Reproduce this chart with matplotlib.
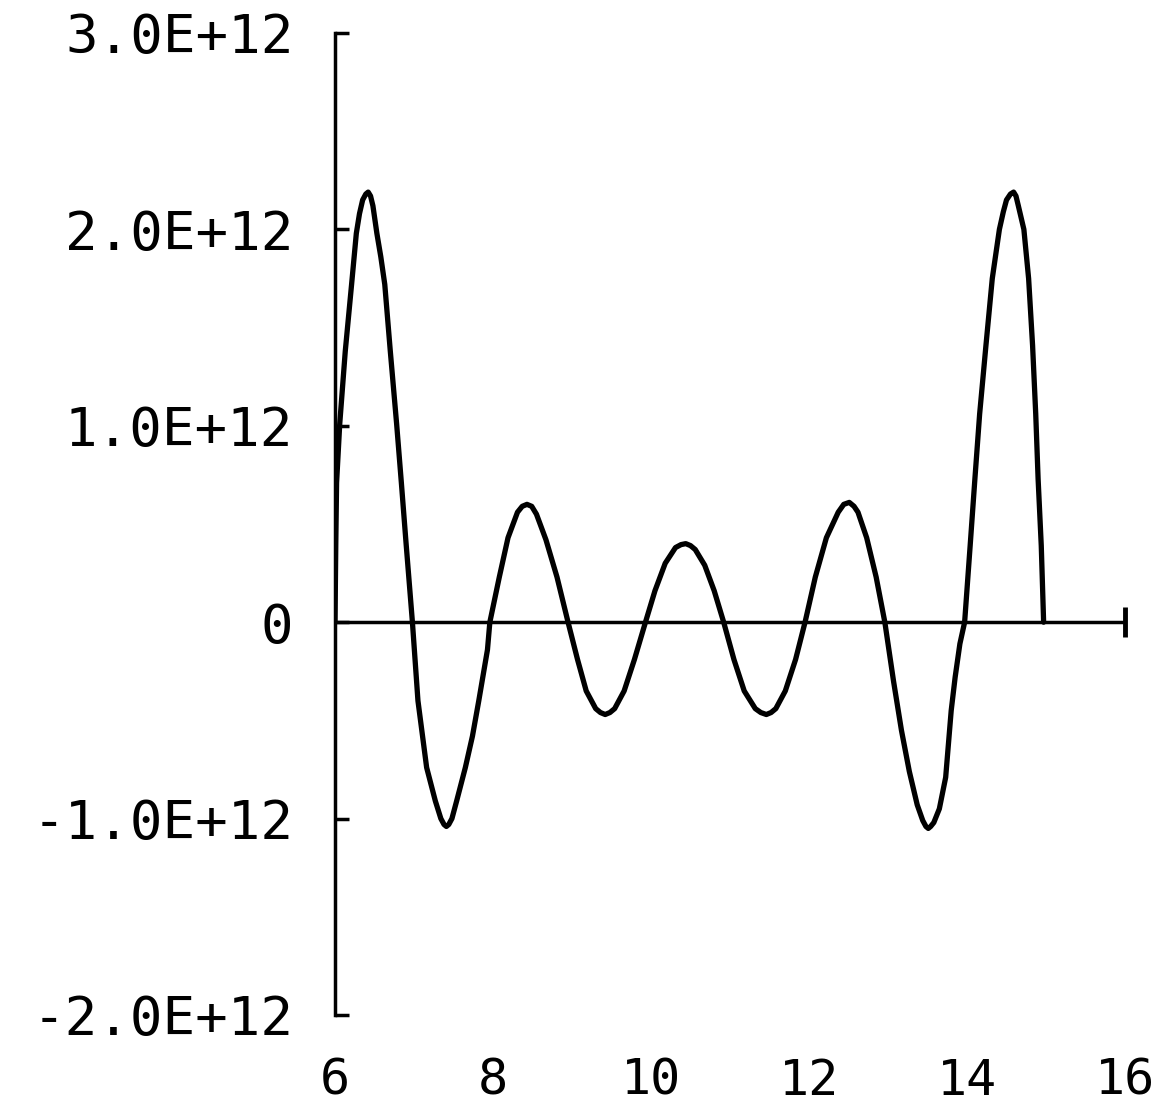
import numpy as np
import matplotlib
matplotlib.use("Agg")
import matplotlib.pyplot as plt

# values (y in units of 1E+12)
x_vals = [6.00, 6.01, 6.02, 6.06, 6.13, 6.21, 6.27, 6.31, 6.35, 6.39, 6.42, 6.45, 6.48, 6.53, 6.58, 6.63, 6.70, 6.78, 6.84, 6.90, 6.98,
          7.05, 7.16, 7.27, 7.34, 7.38, 7.41, 7.44, 7.48, 7.54, 7.65, 7.74, 7.82, 7.93, 7.96,
          8.08, 8.19, 8.31, 8.37, 8.43, 8.49, 8.55, 8.67, 8.81, 8.95,
          9.07, 9.18, 9.30, 9.36, 9.42, 9.48, 9.54, 9.66, 9.79, 9.93,
          10.05, 10.18, 10.31, 10.38, 10.44, 10.50, 10.56, 10.68, 10.80, 10.92,
          11.05, 11.18, 11.32, 11.39, 11.46, 11.52, 11.58, 11.70, 11.83, 11.95,
          12.08, 12.22, 12.37, 12.44, 12.51, 12.57, 12.62, 12.73, 12.85, 12.96,
          13.07, 13.17, 13.27, 13.37, 13.44, 13.48, 13.51, 13.54, 13.58, 13.65, 13.73, 13.80, 13.85, 13.91, 13.97,
          14.04, 14.10, 14.16, 14.24, 14.32, 14.41, 14.46, 14.50, 14.55, 14.59, 14.62, 14.65, 14.72, 14.78, 14.83, 14.87, 14.90, 14.94, 14.97]
y_vals = [0.00, 0.40, 0.71, 1.01, 1.38, 1.72, 1.98, 2.08, 2.15, 2.18, 2.19, 2.17, 2.12, 1.98, 1.86, 1.72, 1.38, 1.01, 0.71, 0.40, 0.00,
          -0.40, -0.74, -0.91, -1.00, -1.03, -1.04, -1.03, -1.00, -0.91, -0.74, -0.58, -0.40, -0.14, 0.00,
          0.23, 0.43, 0.56, 0.59, 0.60, 0.59, 0.55, 0.42, 0.23, 0.00,
          -0.19, -0.35, -0.44, -0.46, -0.47, -0.46, -0.44, -0.35, -0.19, 0.00,
          0.16, 0.30, 0.38, 0.395, 0.40, 0.39, 0.37, 0.29, 0.16, 0.00,
          -0.19, -0.35, -0.44, -0.46, -0.47, -0.46, -0.44, -0.35, -0.19, 0.00,
          0.23, 0.43, 0.56, 0.60, 0.61, 0.59, 0.56, 0.43, 0.23, 0.00,
          -0.30, -0.55, -0.76, -0.93, -1.01, -1.04, -1.05, -1.04, -1.02, -0.95, -0.79, -0.45, -0.28, -0.11, 0.00,
          0.39, 0.73, 1.06, 1.41, 1.75, 2.00, 2.09, 2.15, 2.18, 2.19, 2.17, 2.12, 2.00, 1.75, 1.41, 1.06, 0.73, 0.39, 0.00]

y_ticks = [-2e12, -1e12, 0, 1e12, 2e12, 3e12]
y_tick_labels = ["-2.0E+12", "-1.0E+12", "0", "1.0E+12", "2.0E+12", "3.0E+12"]
x_ticks = [6, 8, 10, 12, 14, 16]
x_tick_labels = ["6", "8", "10", "12", "14", "16"]

plt.rcParams['font.family'] = ['DejaVu Sans Mono', 'DejaVu Sans']

fig = plt.figure(figsize=(11.59, 11.11), dpi=100)
ax = fig.add_axes([335 / 1159, 96 / 1111, 790 / 1159, 982 / 1111])

ax.plot(x_vals, np.array(y_vals) * 1e12, color='black', lw=3.8,
        solid_joinstyle='round', solid_capstyle='round')

ax.set_xlim(6, 16)
ax.set_ylim(-2e12, 3e12)

for s in ['top', 'right', 'bottom']:
    ax.spines[s].set_visible(False)
ax.spines['left'].set_linewidth(2.5)

# x axis drawn through zero, with a bar at the far end
ax.axhline(0, color='black', lw=2.5)
ax.plot(ax.get_xlim()[1], 0, marker='|', ms=22, mew=3.5, color='black', clip_on=False)

ax.set_yticks(y_ticks)
ax.set_yticklabels(y_tick_labels)
ax.set_xticks(x_ticks)
ax.set_xticklabels(x_tick_labels)
ax.tick_params(axis='y', direction='in', length=10, width=2.5, pad=30, labelsize=39)
ax.tick_params(axis='x', length=0, pad=30, labelsize=36)

fig.savefig('out.png', dpi=100)
